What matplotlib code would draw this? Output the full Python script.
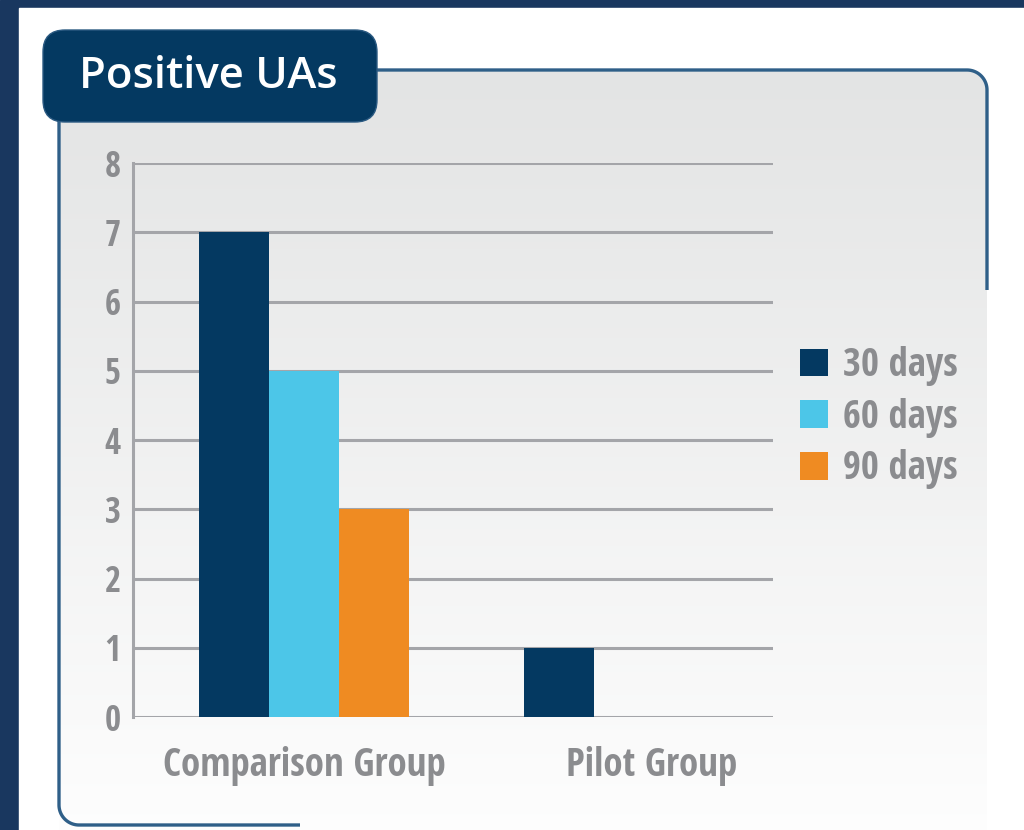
import matplotlib
matplotlib.use("Agg")
import matplotlib.pyplot as plt
import numpy as np
from matplotlib import font_manager as fm
from matplotlib.patches import Rectangle, FancyBboxPatch, Patch

# ---- data ----
title = "Positive UAs"
categories = ["Comparison Group", "Pilot Group"]
series_names = ["30 days", "60 days", "90 days"]
series_values = {
    "30 days": [7, 1],
    "60 days": [5, 0],
    "90 days": [3, 0],
}
series_colors = {"30 days": "#043961", "60 days": "#4cc6e8", "90 days": "#ef8b22"}
y_ticks = [0, 1, 2, 3, 4, 5, 6, 7, 8]

NAVY_FRAME = "#19375f"
TITLE_BOX = "#043961"
BORDER = "#2f5f88"
GRID = "#a4a5a9"
TEXT_GREY = "#8b8c8f"

# ---- font: look for a condensed bold face ----
pref = ["Open Sans", "Noto Sans", "Roboto", "Liberation Sans Narrow", "DejaVu Sans", "Lato"]
cands = []
for f in fm.fontManager.ttflist:
    nm = f.name
    is_cond = ("condensed" in str(f.stretch).lower()) or ("Narrow" in nm) or ("Condensed" in nm) \
        or ("condensed" in f.fname.lower()) or ("narrow" in f.fname.lower())
    w = f.weight
    is_bold = (w in ("bold", "semibold", "demibold")) or (isinstance(w, int) and w >= 600)
    if is_cond and is_bold and "italic" not in f.fname.lower() and "oblique" not in f.fname.lower():
        rank = next((i for i, p in enumerate(pref) if nm.startswith(p)), len(pref))
        semi = 0 if "semibold" in f.fname.lower() or "semi" in f.fname.lower() else 1
        cands.append((rank, semi, f.fname))
cands.sort()
if cands:
    base_fp = fm.FontProperties(fname=cands[0][2])
else:
    base_fp = fm.FontProperties(family="Liberation Sans", weight="bold")

def fp(size):
    p = base_fp.copy()
    p.set_size(size)
    return p

W, H = 1024, 830
fig = plt.figure(figsize=(W / 100, H / 100), dpi=100)

# ---- background decoration (pixel coordinates) ----
bg = fig.add_axes([0, 0, 1, 1])
bg.set_xlim(0, W)
bg.set_ylim(H, 0)
bg.axis("off")
bg.add_patch(Rectangle((0, 0), W, H, color=NAVY_FRAME, zorder=0))
bg.add_patch(Rectangle((19, 8), W - 19, H - 8, color="white", zorder=1))

# gradient panel
pl, pr, pt, pb = 59, 987, 70, 845
panel = FancyBboxPatch((pl, pt), pr - pl, pb - pt,
                       boxstyle="round,pad=0,rounding_size=20",
                       facecolor="none", edgecolor="none", zorder=2)
bg.add_patch(panel)
top_c = np.array([0xe3, 0xe4, 0xe4]) / 255
bot_c = np.array([0xfe, 0xfe, 0xfe]) / 255
t = np.linspace(0, 1, 256)[:, None, None]
grad = top_c * (1 - t) + bot_c * t
im = bg.imshow(grad, extent=(pl, pr, pb, pt), aspect="auto", zorder=2,
               interpolation="bilinear")
im.set_clip_path(panel)
bg.set_xlim(0, W)
bg.set_ylim(H, 0)

# partial border
r = 20
ang = np.linspace(0, np.pi / 2, 30)
xs = [300, pl + r] + list(pl + r - r * np.sin(ang)) + [pl]
ys = [825, 825] + list(825 - r + r * np.cos(ang)) + [120]
bg.plot(xs, ys, color=BORDER, lw=2.4, zorder=3, solid_capstyle="butt")
xs2 = [377, pr - r] + list(pr - r + r * np.sin(ang)) + [pr]
ys2 = [pt, pt] + list(pt + r - r * np.cos(ang)) + [290]
bg.plot(xs2, ys2, color=BORDER, lw=2.4, zorder=3, solid_capstyle="butt")

# title box
bg.add_patch(FancyBboxPatch((43, 30), 334, 92,
                            boxstyle="round,pad=0,rounding_size=22",
                            facecolor=TITLE_BOX, edgecolor="#2b5a82", lw=1.0, zorder=4))
bg.text(79, 77, title, color="white", fontsize=31.5, family="Open Sans",
        weight="semibold", va="center", ha="left", zorder=5)

# ---- main chart ----
ax_l, ax_r, ax_t, ax_b = 133, 773, 163, 717
ax = fig.add_axes([ax_l / W, 1 - ax_b / H, (ax_r - ax_l) / W, (ax_b - ax_t) / H])
ax.set_facecolor("none")
x = np.arange(len(categories))
bw = 0.2154
for i, name in enumerate(series_names):
    ax.bar(x + (i - 1) * bw, series_values[name], width=bw, color=series_colors[name],
           label=name, zorder=3, linewidth=0)

ax.set_ylim(0, 8)
ax.set_xlim(-0.526, 1.443)
ax.set_yticks(y_ticks)
ax.yaxis.grid(True, color=GRID, lw=2.2, zorder=1)
ax.set_axisbelow(True)
for s in ["top", "right", "bottom"]:
    ax.spines[s].set_visible(False)
ax.spines["left"].set_color(GRID)
ax.spines["left"].set_linewidth(2.2)
ax.tick_params(axis="both", length=0)
ax.tick_params(axis="y", pad=9)
ax.tick_params(axis="x", pad=21)
ax.set_xticks([0, 1.07])
ax.set_xticklabels(categories)
for lab in ax.get_yticklabels():
    lab.set_fontproperties(fp(25))
    lab.set_color(TEXT_GREY)
for lab in ax.get_xticklabels():
    lab.set_fontproperties(fp(28))
    lab.set_color(TEXT_GREY)

handles = [Patch(facecolor=series_colors[n], edgecolor="none") for n in series_names]
leg = fig.legend(handles, series_names, loc="upper left",
                 bbox_to_anchor=(800 / W, 1 - 346 / H), frameon=False,
                 prop=fp(28), handlelength=0.72, handleheight=0.72,
                 handletextpad=0.39, labelspacing=0.30, borderpad=0, borderaxespad=0)
for txt in leg.get_texts():
    txt.set_color(TEXT_GREY)

fig.savefig("out.png", dpi=100)
